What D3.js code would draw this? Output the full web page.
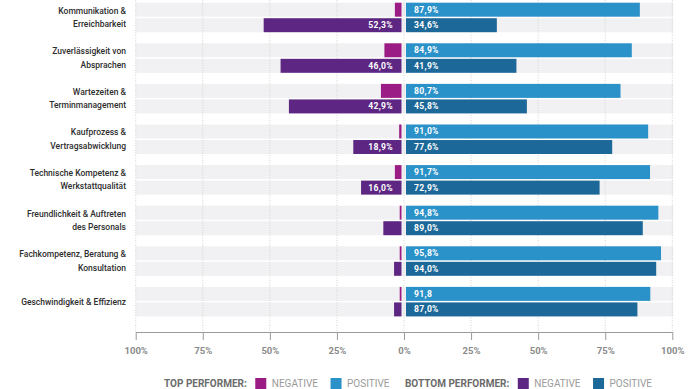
<!DOCTYPE html>
<html>
<head>
<meta charset="utf-8">
<script src="https://cdn.jsdelivr.net/npm/d3@7"></script>
<style>
  html, body { margin: 0; padding: 0; background: #fff; }
  svg { display: block; font-family: Roboto, "Noto Sans", sans-serif; }
</style>
</head>
<body>
<svg id="chart" width="690" height="389"></svg>
<script>
// categories (each split into its display lines)
const categories = [
    ["Kommunikation &", "Erreichbarkeit"],
    ["Zuverlässigkeit von", "Absprachen"],
    ["Wartezeiten &", "Terminmanagement"],
    ["Kaufprozess &", "Vertragsabwicklung"],
    ["Technische Kompetenz &", "Werkstattqualität"],
    ["Freundlichkeit & Auftreten", "des Personals"],
    ["Fachkompetenz, Beratung &", "Konsultation"],
    ["Geschwindigkeit & Effizienz"]
];

// values in percent
const topNeg = [3.4, 7.3, 8.6, 1.8, 3.4, 1.6, 1.6, 1.6];
const topPos = [87.9, 84.9, 80.7, 91.0, 91.7, 94.8, 95.8, 91.8];
const botNeg = [52.3, 46.0, 42.9, 18.9, 16.0, 7.7, 3.7, 3.7];
const botPos = [34.6, 41.9, 45.8, 77.6, 72.9, 89.0, 94.0, 87.0];

// bar labels as printed (null = no label)
const topPosLabels = ["87,9%", "84,9%", "80,7%", "91,0%", "91,7%", "94,8%", "95,8%", "91,8"];
const botNegLabels = ["52,3%", "46,0%", "42,9%", "18,9%", "16,0%", null, null, null];
const botPosLabels = ["34,6%", "41,9%", "45,8%", "77,6%", "72,9%", "89,0%", "94,0%", "87,0%"];

const leftTicks = [100, 75, 50, 25];
const rightTicks = [0, 25, 50, 75, 100];

const colors = {
    topNeg: "#9b1c84",
    topPos: "#2b91c9",
    botNeg: "#5c2682",
    botPos: "#1c6898"
};

const legendGroups = [
    { title: "TOP PERFORMER:", items: [["NEGATIVE", colors.topNeg], ["POSITIVE", colors.topPos]] },
    { title: "BOTTOM PERFORMER:", items: [["NEGATIVE", colors.botNeg], ["POSITIVE", colors.botPos]] }
];

const svg = d3.select("#chart");

const zeroX = 404;
const axisY = 332;
const xLeft = d3.scaleLinear().domain([0, 100]).range([zeroX, 135.7]);
const xRight = d3.scaleLinear().domain([0, 100]).range([zeroX, 672.3]);

const idx = d3.range(categories.length);
const yGroup = d3.scaleBand().domain(idx).range([2.7, 2.7 + categories.length * 40.6]);
const ySub = d3.scaleBand().domain(["top", "bottom"]).range([0, 29.5]).paddingInner(0.1);
const bh = ySub.bandwidth();

// background bands
const bands = svg.append("g");
idx.forEach(i => {
    ["top", "bottom"].forEach(s => {
        bands.append("rect")
            .attr("x", xLeft(100))
            .attr("y", yGroup(i) + ySub(s))
            .attr("width", xRight(100) - xLeft(100) + 1)
            .attr("height", bh)
            .attr("fill", "#f1f1f3");
    });
});

// dotted gridlines
const grid = svg.append("g")
    .attr("stroke", "#d4d4d4")
    .attr("stroke-width", 1)
    .attr("stroke-dasharray", "1,1.5");
leftTicks.forEach(t => {
    grid.append("line").attr("x1", xLeft(t)).attr("x2", xLeft(t)).attr("y1", 0).attr("y2", axisY);
});
rightTicks.forEach(t => {
    grid.append("line").attr("x1", xRight(t)).attr("x2", xRight(t)).attr("y1", 0).attr("y2", axisY);
});

// bars
const bars = svg.append("g");
function negBar(vals, sub, color) {
    bars.selectAll(null)
        .data(vals)
        .join("rect")
        .attr("x", d => xLeft(d))
        .attr("y", (d, i) => yGroup(i) + ySub(sub))
        .attr("width", d => Math.max(0, xLeft(0) - 2.5 - xLeft(d)))
        .attr("height", bh)
        .attr("fill", color);
}
function posBar(vals, sub, color) {
    bars.selectAll(null)
        .data(vals)
        .join("rect")
        .attr("x", xRight(0) + 2)
        .attr("y", (d, i) => yGroup(i) + ySub(sub))
        .attr("width", d => xRight(d) - xRight(0) - 2)
        .attr("height", bh)
        .attr("fill", color);
}
negBar(topNeg, "top", colors.topNeg);
negBar(botNeg, "bottom", colors.botNeg);
posBar(topPos, "top", colors.topPos);
posBar(botPos, "bottom", colors.botPos);

// bar labels
const labels = svg.append("g")
    .attr("fill", "#fff")
    .attr("font-size", 8.6)
    .attr("font-weight", 700)
    .attr("letter-spacing", 0.3);
function posLabels(texts, sub) {
    labels.selectAll(null)
        .data(texts)
        .join("text")
        .attr("x", xRight(0) + 10)
        .attr("y", (d, i) => yGroup(i) + ySub(sub) + bh / 2)
        .attr("dy", "0.35em")
        .text(d => d);
}
posLabels(topPosLabels, "top");
posLabels(botPosLabels, "bottom");
labels.selectAll(null)
    .data(botNegLabels.map((t, i) => ({ t, i })).filter(d => d.t))
    .join("text")
    .attr("x", xLeft(0) - 11)
    .attr("y", d => yGroup(d.i) + ySub("bottom") + bh / 2)
    .attr("dy", "0.35em")
    .attr("text-anchor", "end")
    .text(d => d.t);

// category labels
const cat = svg.append("g")
    .attr("fill", "#2e2e2e")
    .attr("font-size", 8.5)
    .attr("font-weight", 500)
    .attr("text-anchor", "end");
categories.forEach((lines, i) => {
    const cy = yGroup(i) + 14.7;
    const n = lines.length;
    lines.forEach((line, k) => {
        cat.append("text")
            .attr("x", 126)
            .attr("y", cy + (k - (n - 1) / 2) * 13.4)
            .attr("dy", "0.35em")
            .text(line);
    });
});

// axes
function styleAxis(g) {
    g.select(".domain").attr("stroke", "#9a9a9a");
    g.selectAll(".tick line").attr("stroke", "#9a9a9a");
    g.selectAll(".tick text")
        .attr("fill", "#8a8a8a")
        .attr("font-size", 9.5)
        .attr("font-weight", 700)
        .attr("font-family", "Roboto, sans-serif")
        .attr("dy", "1.15em");
}
svg.append("g")
    .attr("transform", `translate(0,${axisY})`)
    .call(d3.axisBottom(xLeft).tickValues(leftTicks).tickSize(8).tickSizeOuter(0).tickFormat(d => d + "%"))
    .call(styleAxis);
svg.append("g")
    .attr("transform", `translate(0,${axisY})`)
    .call(d3.axisBottom(xRight).tickValues(rightTicks).tickSize(8).tickSizeOuter(0).tickFormat(d => d + "%"))
    .call(styleAxis);

// legend
const legend = svg.append("g")
    .attr("font-size", 10);
let lx = 164;
const ly = 383.5;
legendGroups.forEach(grp => {
    const title = legend.append("text")
        .attr("x", lx).attr("y", ly).attr("dy", "0.35em")
        .attr("fill", "#6b6b6b")
        .attr("font-weight", 700)
        .text(grp.title);
    lx += title.node().getComputedTextLength() + 8.5;
    grp.items.forEach(([name, color]) => {
        legend.append("rect")
            .attr("x", lx).attr("y", ly - 5.5)
            .attr("width", 11).attr("height", 11)
            .attr("fill", color);
        lx += 16.5;
        const t = legend.append("text")
            .attr("x", lx).attr("y", ly).attr("dy", "0.35em")
            .attr("fill", "#9a9a9a")
            .text(name);
        lx += t.node().getComputedTextLength() + 12.5;
    });
    lx += 3;
});
</script>
</body>
</html>
